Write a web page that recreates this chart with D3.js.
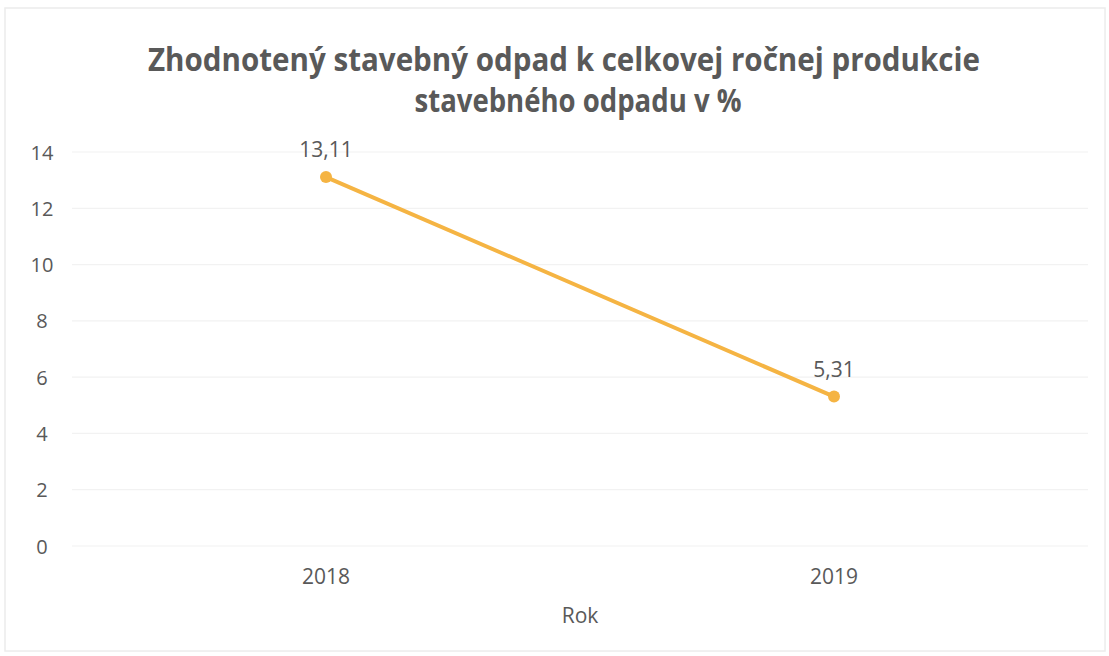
<!DOCTYPE html>
<html><head><meta charset="utf-8">
<script src="https://cdn.jsdelivr.net/npm/d3@7"></script>
<style>html,body{margin:0;padding:0;background:#fff;}</style>
</head><body>
<svg id="c" width="1109" height="656"></svg>
<script>
const categories = ["2018", "2019"];
const values = [13.11, 5.31];
const valueLabels = ["13,11", "5,31"];
const yTicks = [0, 2, 4, 6, 8, 10, 12, 14];
const titleLines = ["Zhodnotený stavebný odpad k celkovej ročnej produkcie", "stavebného odpadu v %"];
const xTitle = "Rok";

const svg = d3.select("#c");
const font = "'Open Sans', sans-serif";
const txt = "#595959";

svg.append("rect").attr("x", 5).attr("y", 8).attr("width", 1100).attr("height", 643)
  .attr("fill", "#fff").attr("stroke", "#ececec").attr("stroke-width", 1.5);

const x = d3.scaleBand().domain(categories).range([72, 1088]);
const y = d3.scaleLinear().domain([0, 14]).range([546, 152]);

// gridlines
svg.append("g").selectAll("line").data(yTicks).join("line")
  .attr("x1", 72).attr("x2", 1088)
  .attr("y1", d => y(d)).attr("y2", d => y(d))
  .attr("stroke", "#f2f2f2").attr("stroke-width", 1.2);

// y axis labels
const yAxis = d3.axisLeft(y).tickValues(yTicks).tickSize(0).tickPadding(0);
const gy = svg.append("g").attr("transform", "translate(42,0)").call(yAxis);
gy.select(".domain").remove();
gy.selectAll("text").attr("font-family", font).attr("font-size", 20).attr("fill", txt).attr("text-anchor", "middle").attr("dy", "0.35em");

// x axis labels
const xAxis = d3.axisBottom(x).tickSize(0).tickPadding(0);
const gx = svg.append("g").call(xAxis);
gx.select(".domain").remove();
gx.selectAll("text").attr("font-family", font).attr("font-size", 21).attr("fill", txt).attr("y", 584).attr("dy", 0);

// title
svg.append("g").selectAll("text").data(titleLines).join("text")
  .attr("x", (d, i) => i === 0 ? 564 : 578).attr("y", (d, i) => 71 + i * 41)
  .attr("text-anchor", "middle").attr("font-family", font).attr("font-weight", "bold")
  .attr("font-size", 32).attr("fill", txt)
  .attr("textLength", (d, i) => i === 0 ? 832 : 327).attr("lengthAdjust", "spacingAndGlyphs")
  .text(d => d);

// axis title
svg.append("text").attr("x", 580).attr("y", 623).attr("text-anchor", "middle")
  .attr("font-family", font).attr("font-size", 21).attr("fill", txt).text(xTitle);

const pts = categories.map((c, i) => ({c, v: values[i], l: valueLabels[i]}));
const cx = d => x(d.c) + x.bandwidth() / 2;

svg.append("path").datum(pts)
  .attr("d", d3.line().x(cx).y(d => y(d.v)))
  .attr("fill", "none").attr("stroke", "#F5B443").attr("stroke-width", 4).attr("stroke-linecap", "round");

svg.append("g").selectAll("circle").data(pts).join("circle")
  .attr("cx", cx).attr("cy", d => y(d.v)).attr("r", 6).attr("fill", "#F5B443");

svg.append("g").selectAll("text").data(pts).join("text")
  .attr("x", cx).attr("y", d => y(d.v) - 20).attr("text-anchor", "middle")
  .attr("font-family", font).attr("font-size", 21).attr("fill", txt).text(d => d.l);
</script>
</body></html>
